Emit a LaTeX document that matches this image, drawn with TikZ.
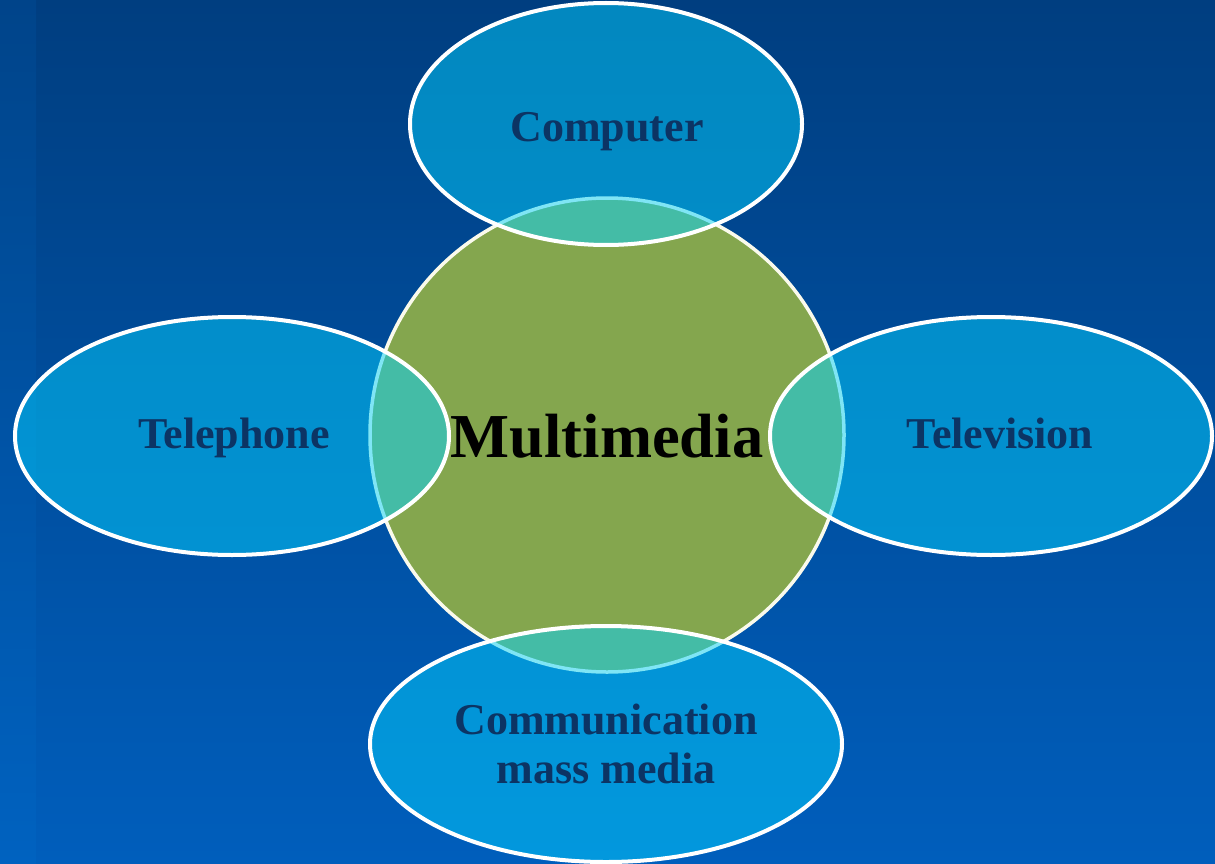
\documentclass[tikz,border=0pt]{standalone}
\usepackage{fontspec}
\setmainfont{Liberation Serif}
\usetikzlibrary{shapes.geometric}

\definecolor{bgTop}{RGB}{0,62,128}
\definecolor{bgBot}{RGB}{0,94,188}
\definecolor{stripTop}{RGB}{0,68,138}
\definecolor{stripBot}{RGB}{0,98,192}
\definecolor{hubGreen}{RGB}{132,166,78}
\definecolor{hubRim}{RGB}{250,250,236}
\definecolor{petalBlue}{RGB}{5,210,255}
\definecolor{labelNavy}{RGB}{12,52,100}

\tikzset{
  hub/.style={circle, draw=hubRim, line width=3.5pt, fill=hubGreen,
    minimum size=474pt, inner sep=0pt},
  hubtext/.style={anchor=base, inner sep=0pt,
    font=\fontsize{62.5}{66}\selectfont\bfseries, text=black},
  petal/.style={ellipse, draw=white, line width=4pt, fill=petalBlue,
    fill opacity=0.5, draw opacity=1, text opacity=1, inner sep=0pt,
    font=\fontsize{44}{49}\selectfont\bfseries, text=labelNavy, align=center},
  petaltext/.style={anchor=base, inner sep=0pt,
    font=\fontsize{44}{49}\selectfont\bfseries, text=labelNavy},
}

\begin{document}
\begin{tikzpicture}[x=1pt, y=-1pt]
  % backdrop
  \useasboundingbox (0,0) rectangle (1215,864);
  \shade[top color=bgTop, bottom color=bgBot] (0,0) rectangle (1215,864);
  \shade[top color=stripTop, bottom color=stripBot] (0,0) rectangle (36,864);

  % central circle
  \node[hub] (multimedia) at (607,435) {};
  \node[hubtext] (multimedia-text) at (607,457) {Multimedia};

  % surrounding ellipses
  \node[petal, minimum width=392pt, minimum height=242pt] (computer) at (606,124) {};
  \node[petal, minimum width=434pt, minimum height=238pt] (telephone) at (232,436) {};
  \node[petal, minimum width=442pt, minimum height=238pt] (television) at (991,436) {};
  \node[petal, minimum width=472pt, minimum height=236pt] (communication) at (606,744)
    {Communication\\mass media};

  % ellipse captions, set on their baselines
  \node[petaltext] (computer-text) at (607,142) {Computer};
  \node[petaltext] (telephone-text) at (234,448) {Telephone};
  \node[petaltext] (television-text) at (1000,448) {Television};
\end{tikzpicture}
\end{document}
